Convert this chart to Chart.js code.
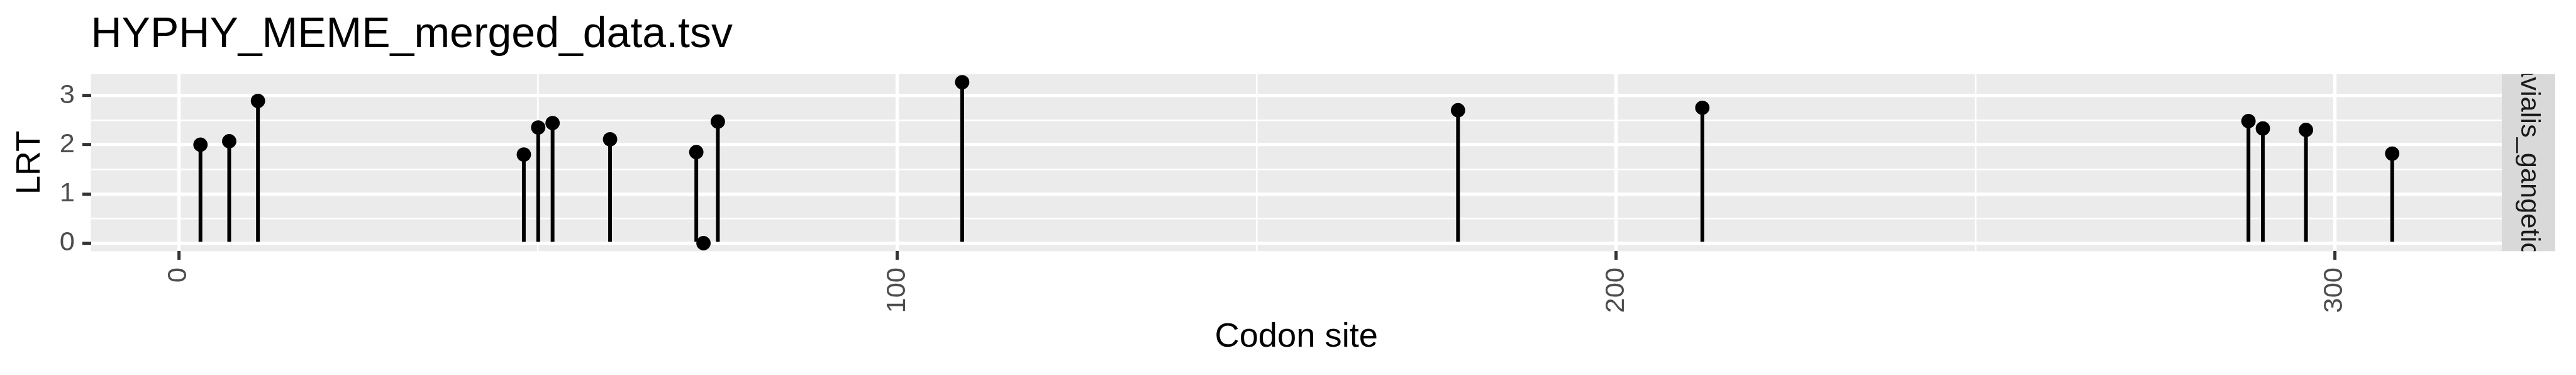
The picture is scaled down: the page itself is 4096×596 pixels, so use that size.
<!DOCTYPE html>
<html>
<head>
<meta charset="utf-8">
<title>HYPHY_MEME_merged_data.tsv</title>
<script src="https://cdn.jsdelivr.net/npm/chart.js@4.4.1/dist/chart.umd.min.js"></script>
<style>
  html, body { margin: 0; padding: 0; background: #ffffff; }
  #wrap { width: 4096px; height: 596px; }
</style>
</head>
<body>
<div id="wrap"><canvas id="lrtChart" width="4096" height="596"></canvas></div>
<script>
const plotTitle = "HYPHY_MEME_merged_data.tsv";
const stripLabel = "Gavialis_gangeticus";
const xTitle = "Codon site";
const yTitle = "LRT";

// sites under selection and their LRT values
const codonSites = [3, 7, 11, 48, 50, 52, 60, 72, 73, 75, 109, 178, 212, 288, 290, 296, 308];
const lrtValues = [2.00, 2.07, 2.89, 1.80, 2.35, 2.44, 2.11, 1.85, 0.00, 2.47, 3.27, 2.70, 2.75, 2.48, 2.33, 2.30, 1.82];

const xMajorTicks = [0, 100, 200, 300];
const xMinorTicks = [50, 150, 250];
const yMajorTicks = [0, 1, 2, 3];
const yMinorTicks = [0.5, 1.5, 2.5];

// ggplot style 5% expansion on each side
function expandRange(values) {
    const lo = Math.min(...values);
    const hi = Math.max(...values);
    const pad = (hi - lo) * 0.05;
    return [lo - pad, hi + pad];
}
const [xLo, xHi] = expandRange(codonSites);
const [yLo, yHi] = expandRange([0, ...lrtValues]);

const FONT = 'Liberation Sans';
const STRIP_W = 85;

function allTicks(major, minor) {
    return [...major, ...minor].sort((a, b) => a - b).map(v => ({ value: v }));
}

function isMajor(c, major) {
    return !!(c && c.tick && major.includes(c.tick.value));
}

// panel background, facet strip and plot title
const facetDecor = {
    id: 'facetDecor',
    beforeDraw(chart) {
        const { ctx, chartArea: a } = chart;
        ctx.save();
        ctx.fillStyle = '#EBEBEB';
        ctx.fillRect(a.left, a.top, a.right - a.left, a.bottom - a.top);

        ctx.fillStyle = '#D9D9D9';
        ctx.fillRect(a.right, a.top, STRIP_W, a.bottom - a.top);
        ctx.beginPath();
        ctx.rect(a.right, a.top, STRIP_W, a.bottom - a.top);
        ctx.clip();
        ctx.translate(a.right + STRIP_W / 2, (a.top + a.bottom) / 2);
        ctx.rotate(Math.PI / 2);
        ctx.fillStyle = '#1A1A1A';
        ctx.font = '43.4px "' + FONT + '"';
        ctx.textAlign = 'center';
        ctx.textBaseline = 'middle';
        ctx.fillText(stripLabel, 0, 0);
        ctx.restore();

        ctx.save();
        ctx.fillStyle = '#000000';
        ctx.font = '68px "' + FONT + '"';
        ctx.textAlign = 'left';
        ctx.textBaseline = 'alphabetic';
        ctx.fillText(plotTitle, a.left, 75.2);
        ctx.restore();
    }
};

const points = codonSites.map((x, i) => ({ x: x, y: lrtValues[i] }));

new Chart(document.getElementById('lrtChart'), {
    data: {
        datasets: [
            {
                type: 'scatter',
                data: points,
                backgroundColor: '#000000',
                borderWidth: 0,
                pointRadius: 11.4,
                pointHoverRadius: 11.4,
                order: 0
            },
            {
                type: 'bar',
                data: points,
                backgroundColor: '#000000',
                borderWidth: 0,
                barThickness: 5.3,
                grouped: false,
                order: 1
            }
        ]
    },
    options: {
        responsive: false,
        animation: false,
        events: [],
        layout: { padding: { left: 0, right: 118, top: 117.8, bottom: 0 } },
        plugins: {
            legend: { display: false },
            tooltip: { enabled: false }
        },
        scales: {
            x: {
                type: 'linear',
                position: 'bottom',
                min: xLo,
                max: xHi,
                offset: false,
                afterBuildTicks: s => { s.ticks = allTicks(xMajorTicks, xMinorTicks); },
                afterFit: s => { s.height = 196.7; },
                border: { display: false },
                grid: {
                    offset: false,
                    color: '#FFFFFF',
                    lineWidth: c => isMajor(c, xMajorTicks) ? 5.3 : 2.6,
                    tickLength: 13.6,
                    tickWidth: 5,
                    tickColor: c => isMajor(c, xMajorTicks) ? '#333333' : 'rgba(0,0,0,0)'
                },
                ticks: {
                    autoSkip: false,
                    minRotation: 90,
                    maxRotation: 90,
                    padding: 12.1,
                    color: '#4D4D4D',
                    font: { family: FONT, size: 43.4 },
                    callback: v => xMajorTicks.includes(v) ? String(v) : ''
                },
                title: {
                    display: true,
                    text: xTitle,
                    color: '#000000',
                    font: { family: FONT, size: 54.3 },
                    padding: { top: 0, bottom: 27.3 }
                }
            },
            y: {
                type: 'linear',
                position: 'left',
                min: yLo,
                max: yHi,
                afterBuildTicks: s => { s.ticks = allTicks(yMajorTicks, yMinorTicks); },
                afterFit: s => { s.width = 144.5; },
                border: { display: false },
                grid: {
                    offset: false,
                    color: '#FFFFFF',
                    lineWidth: c => isMajor(c, yMajorTicks) ? 5.3 : 2.6,
                    tickLength: 13.6,
                    tickWidth: 5,
                    tickColor: c => isMajor(c, yMajorTicks) ? '#333333' : 'rgba(0,0,0,0)'
                },
                ticks: {
                    autoSkip: false,
                    padding: 11.9,
                    color: '#4D4D4D',
                    font: { family: FONT, size: 43.4 },
                    callback: v => yMajorTicks.includes(v) ? String(v) : ''
                },
                title: {
                    display: true,
                    text: yTitle,
                    color: '#000000',
                    font: { family: FONT, size: 54.3 },
                    padding: { top: 15.6, bottom: 0 }
                }
            }
        }
    },
    plugins: [facetDecor]
});
</script>
</body>
</html>
